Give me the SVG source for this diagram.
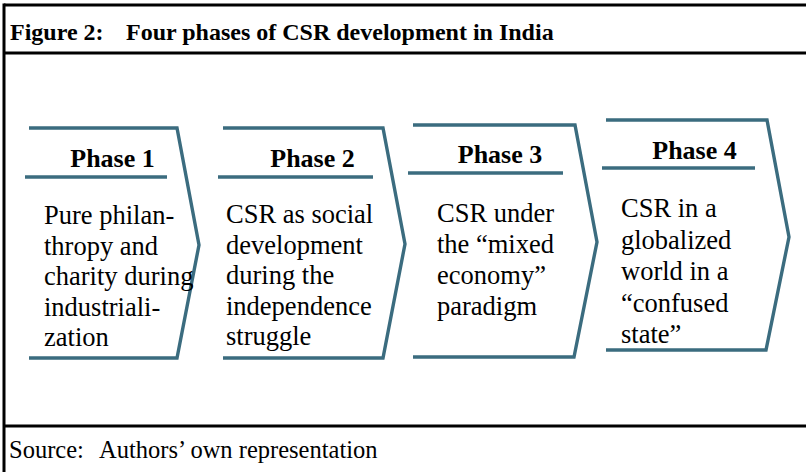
<svg xmlns="http://www.w3.org/2000/svg" width="806" height="472" viewBox="0 0 806 472" font-family="'Liberation Serif', 'Times New Roman', serif">
<style>
.frame{stroke:#000;stroke-width:3;fill:none}
.chev{stroke:#3b6c7f;stroke-width:3.4;fill:none;stroke-linejoin:miter}
.ttl{font-weight:bold;font-size:24px;fill:#000}
.src{font-size:24.5px;fill:#000}
.phl{font-weight:bold;font-size:26px;fill:#000;text-anchor:middle}
.txt{font-size:26.5px;fill:#000}
</style>
<rect width="806" height="472" fill="#fff"/>
<g id="frame">
<line class="frame" x1="4" y1="5" x2="806" y2="5"/>
<line class="frame" x1="4" y1="53" x2="806" y2="53"/>
<line class="frame" x1="4" y1="426" x2="806" y2="426"/>
<line class="frame" x1="4" y1="3.5" x2="4" y2="472"/>
</g>
<g id="title"><text class="ttl" font-family="'Liberation Serif', 'Times New Roman', serif" y="40"><tspan x="10">Figure 2:</tspan><tspan x="126">Four phases of CSR development in India</tspan></text></g>
<g id="source"><text class="src" font-family="'Liberation Serif', 'Times New Roman', serif" y="458"><tspan x="9">Source:</tspan><tspan x="99">Authors’ own representation</tspan></text></g>
<g id="connectors"></g>
<g id="phase1" font-family="'Liberation Serif', 'Times New Roman', serif">
<path class="chev" d="M29,128 L177,128 L199,245 L177,358 L29,358"/>
<path class="chev" d="M25,177 L167,177"/>
<text class="phl" x="112.5" y="167">Phase 1</text>
<text class="txt"><tspan x="44" y="224">Pure philan-</tspan><tspan x="44" y="254.5">thropy and</tspan><tspan x="44" y="285">charity during</tspan><tspan x="44" y="315.5">industriali-</tspan><tspan x="44" y="346">zation</tspan></text>
</g>
<g id="phase2" font-family="'Liberation Serif', 'Times New Roman', serif">
<path class="chev" d="M223,128 L383,128 L405,244 L383,358 L223,358"/>
<path class="chev" d="M218,177 L373,177"/>
<text class="phl" x="312.5" y="167">Phase 2</text>
<text class="txt"><tspan x="226" y="223">CSR as social</tspan><tspan x="226" y="253.5">development</tspan><tspan x="226" y="284">during the</tspan><tspan x="226" y="314.5">independence</tspan><tspan x="226" y="345">struggle</tspan></text>
</g>
<g id="phase3" font-family="'Liberation Serif', 'Times New Roman', serif">
<path class="chev" d="M413,125 L575,125 L597,242 L574,357 L413,357"/>
<path class="chev" d="M408,173 L563,173"/>
<text class="phl" x="500" y="163">Phase 3</text>
<text class="txt"><tspan x="437" y="222">CSR under</tspan><tspan x="437" y="253">the “mixed</tspan><tspan x="437" y="284">economy”</tspan><tspan x="437" y="315">paradigm</tspan></text>
</g>
<g id="phase4" font-family="'Liberation Serif', 'Times New Roman', serif">
<path class="chev" d="M606,120 L767,120 L789,237 L766,350 L606,350"/>
<path class="chev" d="M602,168 L755,168"/>
<text class="phl" x="694.5" y="159">Phase 4</text>
<text class="txt"><tspan x="621" y="217">CSR in a</tspan><tspan x="621" y="248.5">globalized</tspan><tspan x="621" y="280">world in a</tspan><tspan x="621" y="311.5">“confused</tspan><tspan x="621" y="343">state”</tspan></text>
</g>
</svg>
